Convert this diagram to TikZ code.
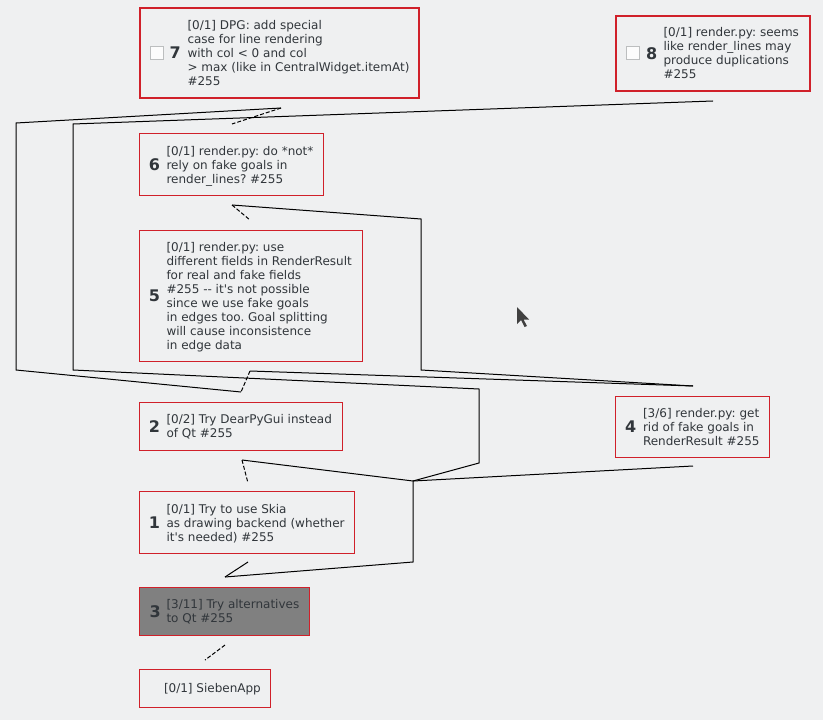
\documentclass[tikz,border=0pt]{standalone}
\usepackage{fontspec}
\setmainfont{DejaVu Sans}
\frenchspacing

\definecolor{bgcol}{HTML}{EFF0F1}
\definecolor{goalred}{HTML}{D0202A}
\definecolor{goalink}{HTML}{31363B}
\definecolor{closedgray}{HTML}{808080}
\definecolor{checkline}{HTML}{BCBEBF}
\definecolor{checkfill}{HTML}{FCFCFC}

\tikzset{every picture/.style={line width=0.75pt},
  goalbox/.style={draw=goalred, fill=bgcol, anchor=north west, inner sep=0pt, outer sep=0pt},
  goalsel/.style={goalbox, line width=1.5pt},
  goalnum/.style={anchor=west, inner sep=0pt, text=goalink, font=\fontsize{12}{14}\selectfont\bfseries},
  goaltxt/.style={anchor=north west, inner sep=0pt, align=left, text=goalink, font=\fontsize{9}{10.5}\selectfont\frenchspacing},
  checkbox/.style={draw=checkline, fill=checkfill, minimum size=9.75pt, inner sep=0pt, outer sep=0pt},
  edge/.style={draw=black, line width=0.75pt},
  blocker/.style={edge, dash pattern={on 3pt off 1.5pt}}}

\begin{document}
\begin{tikzpicture}[x=0.75pt,y=0.75pt,yscale=-1,xscale=1]
        \useasboundingbox (0,0) rectangle (823,720);
        \fill[bgcol] (0,0) rectangle (823,720);

        %Shape: Goal 7
        \node [goalsel, minimum width=209.25pt, minimum height=67.5pt] (g7) at (140,8) {};
        \node [checkbox] (c7) at (157,53.5) {};
        \node [goalnum] (n7) at (169,53) {7};
        % Text Node
        \node [goaltxt] (t7) at (187,19.3) {\strut[0/1] DPG: add special\\case for line rendering\\with col < 0 and col\\> max (like in CentralWidget.itemAt)\\\#255};

        %Shape: Goal 8
        \node [goalsel, minimum width=145.5pt, minimum height=56.25pt] (g8) at (616,16) {};
        \node [checkbox] (c8) at (633,53.5) {};
        \node [goalnum] (n8) at (645.7,53.5) {8};
        % Text Node
        \node [goaltxt] (t8) at (663,26.6) {\strut[0/1] render.py: seems\\like render\_lines may\\produce duplications\\\#255};

        %Shape: Goal 6
        \node [goalbox, minimum width=138pt, minimum height=46.5pt] (g6) at (139.5,133.5) {};
        \node [goalnum] (n6) at (148.3,164.5) {6};
        % Text Node
        \node [goaltxt] (t6) at (166,144.8) {\strut[0/1] render.py: do *not*\\rely on fake goals in\\render\_lines? \#255};

        %Shape: Goal 5
        \node [goalbox, minimum width=167.25pt, minimum height=98.25pt] (g5) at (139.5,230.5) {};
        \node [goalnum] (n5) at (148.3,295.5) {5};
        % Text Node
        \node [goaltxt] (t5) at (166,240.8) {\strut[0/1] render.py: use\\different fields in RenderResult\\for real and fake fields\\\#255 -{}- it\textquotesingle s not possible\\since we use fake goals\\in edges too. Goal splitting\\will cause inconsistence\\in edge data};

        %Shape: Goal 2
        \node [goalbox, minimum width=152.25pt, minimum height=36pt] (g2) at (139.5,402.5) {};
        \node [goalnum] (n2) at (148.3,426.5) {2};
        % Text Node
        \node [goaltxt] (t2) at (166,413.5) {\strut[0/2] Try DearPyGui instead\\of Qt \#255};

        %Shape: Goal 4
        \node [goalbox, minimum width=115.5pt, minimum height=45.75pt] (g4) at (615.5,396.5) {};
        \node [goalnum] (n4) at (624.7,427) {4};
        % Text Node
        \node [goaltxt] (t4) at (642.5,406.8) {\strut[3/6] render.py: get\\rid of fake goals in\\RenderResult \#255};

        %Shape: Goal 1
        \node [goalbox, minimum width=161.25pt, minimum height=46.5pt] (g1) at (139.5,491.5) {};
        \node [goalnum] (n1) at (148.3,522.5) {1};
        % Text Node
        \node [goaltxt] (t1) at (166,502.8) {\strut[0/1] Try to use Skia\\as drawing backend (whether\\it\textquotesingle s needed) \#255};

        %Shape: Goal 3
        \node [goalbox, fill=closedgray, minimum width=127.5pt, minimum height=36pt] (g3) at (139.5,587.5) {};
        \node [goalnum] (n3) at (149,611.5) {3};
        % Text Node
        \node [goaltxt] (t3) at (166,598.5) {\strut[3/11] Try alternatives\\to Qt \#255};

        %Shape: Goal SiebenApp
        \node [goalbox, minimum width=98.25pt, minimum height=28.5pt] (g0) at (139.5,669.5) {};
        % Text Node
        \node [goaltxt] (t0) at (163.5,682.5) {\strut[0/1] SiebenApp};

        % edge ends
        \coordinate (e8a) at (713,101);
        \coordinate (e7a) at (281,108);
        \coordinate (e6b) at (232,124);
        \coordinate (e6a) at (232,205);
        \coordinate (e5b) at (250,220);
        \coordinate (e5a) at (250,371);
        \coordinate (e2b) at (241,392);
        \coordinate (e4b) at (693,386);
        \coordinate (e4a) at (693,466);
        \coordinate (e2a) at (242,460);
        \coordinate (e1b) at (248,483);
        \coordinate (e1a) at (248,562);
        \coordinate (e3b) at (225,577);
        \coordinate (e3a) at (225,645);
        \coordinate (e0b) at (205,660);
        \coordinate (join) at (413,481);

        % edges
        \draw [edge] (e8a) -- (73,124) -- (73,370) -- (479,389) -- (479,463) -- (join);
        \draw [edge] (e7a) -- (16,123) -- (16,370) -- (e2b);
        \draw [blocker] (e7a) -- (e6b);
        \draw [edge] (e6a) -- (421,219) -- (421,370) -- (e4b);
        \draw [blocker] (e6a) -- (e5b);
        \draw [edge] (e5a) -- (e4b);
        \draw [blocker] (e5a) -- (e2b);
        \draw [edge] (e4a) -- (join);
        \draw [edge] (e2a) -- (join);
        \draw [blocker] (e2a) -- (e1b);
        \draw [edge] (join) -- (413,562) -- (e3b);
        \draw [edge] (e3b) -- (e1a);
        \draw [blocker] (e3a) -- (e0b);

        %Shape: mouse pointer
        \fill [black!75] (517,307) -- (517,324) -- (521,320) -- (524.5,327) -- (527,326) -- (523.5,319.5) -- (529,319.5) -- cycle;

    \end{tikzpicture}
\end{document}
